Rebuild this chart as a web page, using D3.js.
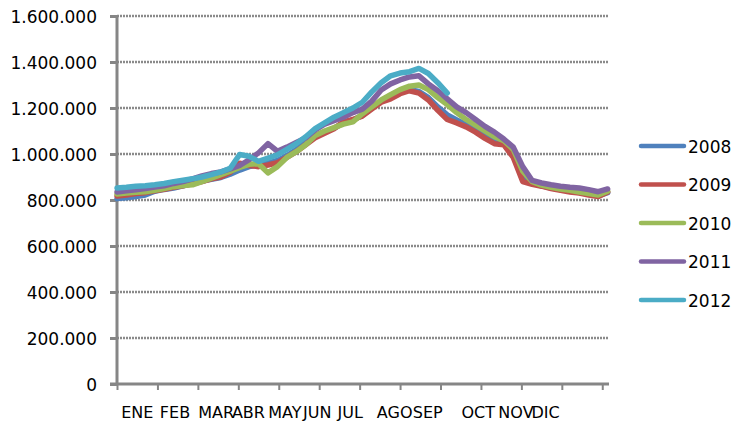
<!DOCTYPE html>
<html>
<head>
<meta charset="utf-8">
<script src="https://cdn.jsdelivr.net/npm/d3@7"></script>
<style>
  html, body { margin: 0; padding: 0; background: #fff; }
  svg text { font-family: "DejaVu Sans", sans-serif; fill: #000; }
</style>
</head>
<body>
<div id="chart"></div>
<script>
// Weekly samples (day of year = 7 * index), values in units of 1,000
const weekDays = d3.range(0, 53).map(k => k * 7);

const years = ["2008", "2009", "2010", "2011", "2012"];

const v2008 = [806, 810, 815, 822, 838, 846, 852, 862, 872, 882, 890, 898, 912, 930, 945, 952, 960, 972, 992, 1020,
  1050, 1080, 1095, 1112, 1135, 1148, 1168, 1200, 1228, 1248, 1268, 1280, 1272, 1245, 1205, 1170, 1148, 1128, 1105, 1080,
  1058, 1048, 1000, 890, 872, 862, 852, 845, 838, 832, 825, 818, 832];
const v2009 = [817, 822, 828, 832, 840, 847, 855, 862, 870, 880, 892, 900, 920, 960, 950, 945, 952, 962, 985, 1010,
  1040, 1070, 1090, 1110, 1140, 1150, 1165, 1195, 1225, 1240, 1262, 1275, 1265, 1235, 1190, 1150, 1135, 1118, 1095, 1068,
  1045, 1040, 985, 880, 868, 860, 850, 842, 835, 830, 822, 815, 835];
const v2010 = [826, 830, 834, 836, 842, 850, 858, 863, 866, 880, 895, 910, 925, 942, 955, 958, 918, 945, 985, 1010,
  1040, 1080, 1100, 1115, 1130, 1140, 1175, 1205, 1235, 1258, 1280, 1295, 1300, 1280, 1245, 1215, 1180, 1150, 1125, 1100,
  1075, 1058, 1020, 925, 880, 865, 855, 848, 842, 835, 828, 822, 838];
const v2011 = [835, 840, 845, 850, 856, 862, 872, 880, 892, 905, 915, 922, 935, 950, 975, 1005, 1045, 1012, 1030, 1050,
  1070, 1105, 1130, 1145, 1160, 1180, 1195, 1230, 1278, 1305, 1322, 1335, 1340, 1305, 1275, 1240, 1205, 1180, 1150, 1120,
  1095, 1065, 1030, 945, 885, 874, 866, 860, 855, 852, 845, 836, 848];
const v2012 = [852, 855, 860, 862, 866, 872, 880, 886, 892, 900, 910, 922, 938, 998, 990, 968, 982, 996, 1020, 1045,
  1075, 1110, 1135, 1160, 1180, 1200, 1225, 1270, 1310, 1340, 1352, 1358, 1372, 1350, 1310, 1265];

const seriesValues = [v2008, v2009, v2010, v2011, v2012];
const colors = ["#4F81BD", "#C0504D", "#9BBB59", "#8064A2", "#4BACC6"];

const yTicks = [0, 200000, 400000, 600000, 800000, 1000000, 1200000, 1400000, 1600000];
const monthLabels = ["ENE", "FEB", "MAR", "ABR", "MAY", "JUN", "JUL", "AGO", "SEP", "OCT", "NOV", "DIC"];
const monthLabelDays = [15, 43, 73.5, 97.5, 124.5, 148.5, 173, 206, 230.5, 268, 296, 318];
const xTickDays = d3.range(0, 361, 30);

const W = 734, H = 427;
const svg = d3.select("#chart").append("svg").attr("width", W).attr("height", H);

const x = d3.scaleLinear().domain([0, 365]).range([117, 609]);
const y = d3.scaleLinear().domain([0, 1600000]).range([384, 16]);

// number format with dots as thousand separators
const fmt = d3.formatLocale({ decimal: ",", thousands: ".", grouping: [3], currency: ["", "€"] }).format(",d");

const axisColor = "#868686";

// horizontal gridlines
svg.append("g").selectAll("line").data(yTicks.slice(1)).join("line")
  .attr("x1", x(0)).attr("x2", x(365))
  .attr("y1", d => y(d)).attr("y2", d => y(d))
  .attr("stroke", "#8a8a8a").attr("stroke-width", 2.5).attr("stroke-dasharray", "2 1");

// y axis
const yAxis = svg.append("g").attr("transform", `translate(${x(0)},0)`)
  .call(d3.axisLeft(y).tickValues(yTicks).tickSize(7).tickPadding(13).tickFormat(fmt));
yAxis.select(".domain").attr("stroke", axisColor).attr("stroke-width", 3).attr("d", `M0,${y(1600000) - 1}V${y(0) + 1}`);
yAxis.selectAll(".tick line").attr("stroke", axisColor).attr("stroke-width", 3);
yAxis.selectAll(".tick text").attr("font-size", 17).attr("font-family", "DejaVu Sans").attr("fill", "#000").attr("dy", "0.36em");

// x axis
const xAxis = svg.append("g").attr("transform", `translate(0,${y(0)})`)
  .call(d3.axisBottom(x).tickValues(xTickDays).tickSize(6).tickFormat(""));
xAxis.select(".domain").attr("stroke", axisColor).attr("stroke-width", 3).attr("d", `M${x(0) - 7},0H${x(365)}`);
xAxis.selectAll(".tick line").attr("stroke", axisColor).attr("stroke-width", 2);

svg.append("g").selectAll("text").data(monthLabels).join("text")
  .attr("x", (d, i) => x(monthLabelDays[i]))
  .attr("y", 418)
  .attr("text-anchor", "middle")
  .attr("font-size", 16)
  .text(d => d);

// series lines
const line = d3.line()
  .x((d, i) => x(weekDays[i]))
  .y(d => y(d * 1000))
  .curve(d3.curveLinear);

svg.append("g").selectAll("path").data(seriesValues).join("path")
  .attr("d", d => line(d))
  .attr("fill", "none")
  .attr("stroke", (d, i) => colors[i])
  .attr("stroke-width", 5.5)
  .attr("stroke-linejoin", "round")
  .attr("stroke-linecap", "round");

// legend
const legend = svg.append("g").selectAll("g").data(years).join("g")
  .attr("transform", (d, i) => `translate(640,${146 + i * 38.5})`);
legend.append("line")
  .attr("x1", 1).attr("x2", 44).attr("y1", 0).attr("y2", 0)
  .attr("stroke", (d, i) => colors[i]).attr("stroke-width", 4.5).attr("stroke-linecap", "round");
legend.append("text")
  .attr("x", 48).attr("y", 6.5)
  .attr("font-size", 17)
  .text(d => d);
</script>
</body>
</html>
